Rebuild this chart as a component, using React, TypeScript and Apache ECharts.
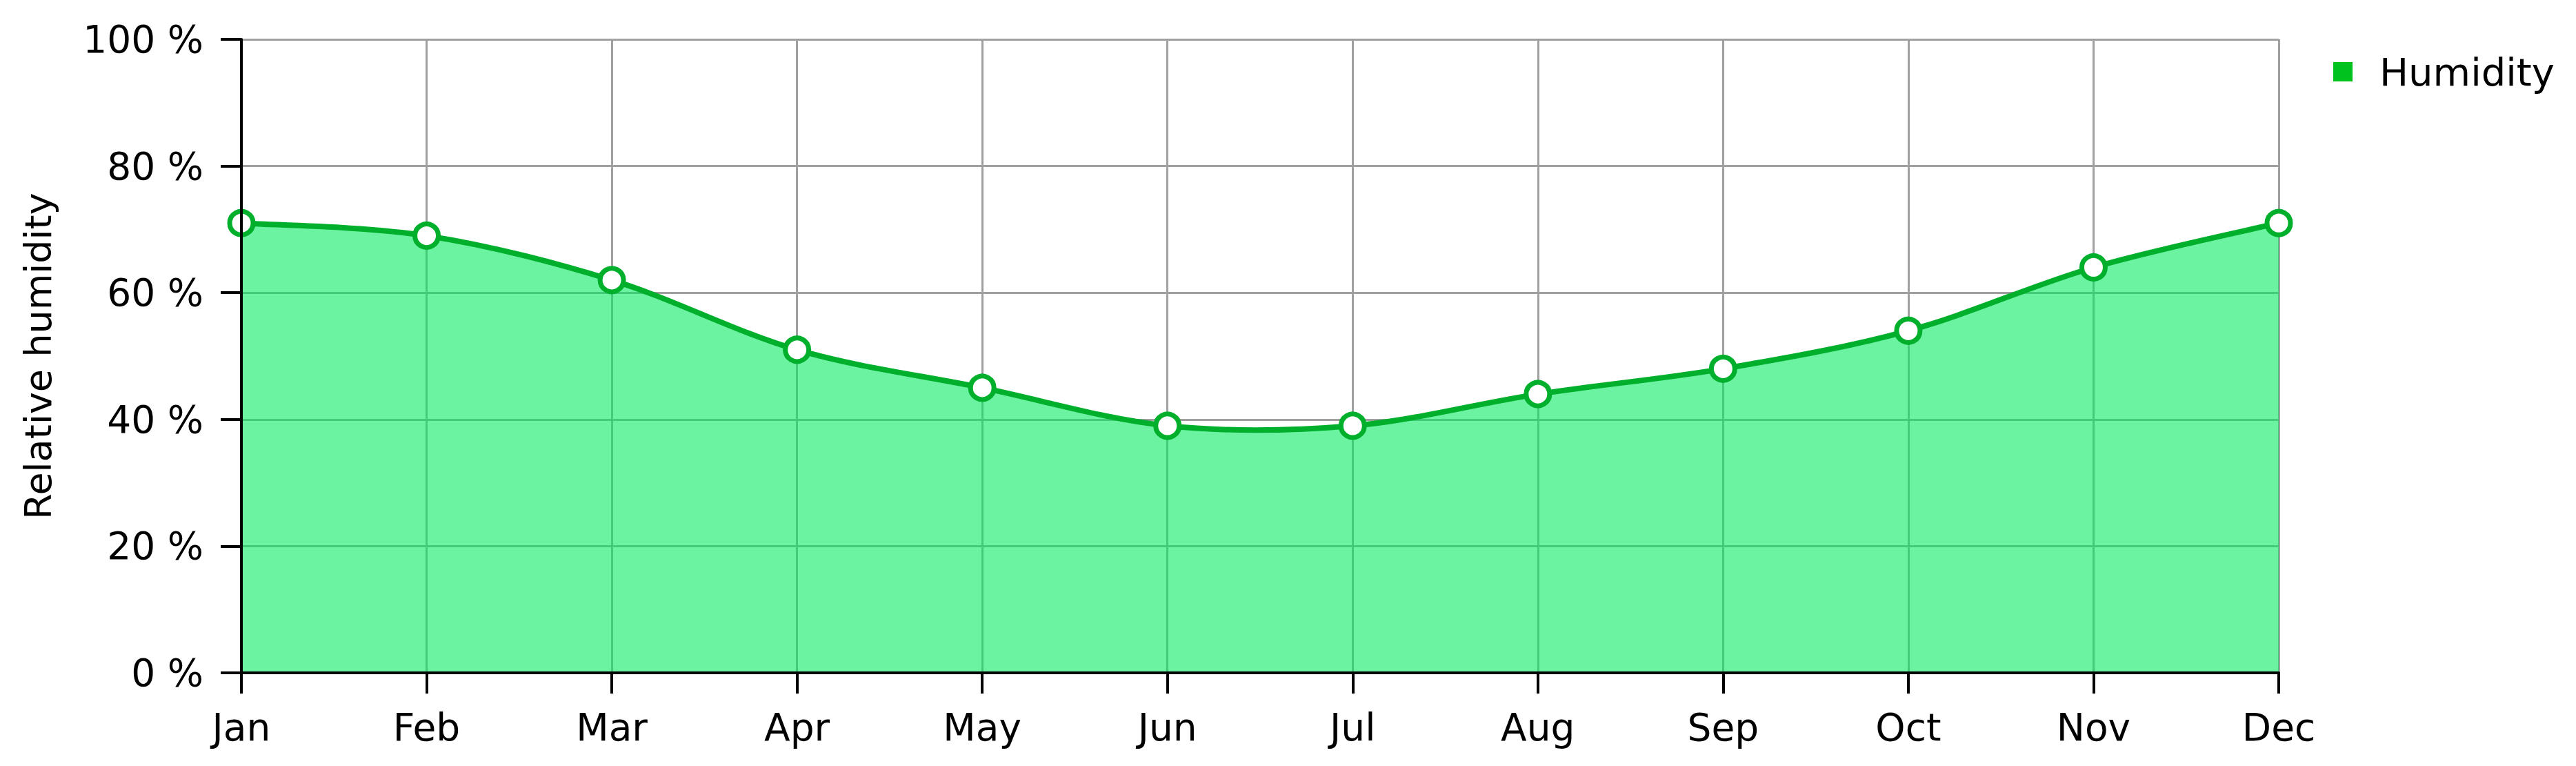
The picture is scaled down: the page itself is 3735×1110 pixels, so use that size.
import React, { useEffect, useRef } from "react";
import * as echarts from "echarts";

const months = ["Jan", "Feb", "Mar", "Apr", "May", "Jun", "Jul", "Aug", "Sep", "Oct", "Nov", "Dec"];
const humidity = [71, 69, 62, 51, 45, 39, 39, 44, 48, 54, 64, 71];
const seriesName = "Humidity";
const yAxisName = "Relative humidity";

const FONT = "DejaVu Sans";
const LINE = "#00b02c";
const FILL = "rgba(0,234,94,0.576)";

function curvePath(pts: number[][]): string {
  const n = pts.length;
  let d = `M${pts[0][0]},${pts[0][1]}`;
  for (let i = 0; i < n - 1; i++) {
    const p0 = pts[Math.max(i - 1, 0)];
    const p1 = pts[i];
    const p2 = pts[i + 1];
    const p3 = pts[Math.min(i + 2, n - 1)];
    const c1x = p1[0] + (p2[0] - p0[0]) / 6;
    const c1y = p1[1] + (p2[1] - p0[1]) / 6;
    const c2x = p2[0] - (p3[0] - p1[0]) / 6;
    const c2y = p2[1] - (p3[1] - p1[1]) / 6;
    d += ` C${c1x},${c1y} ${c2x},${c2y} ${p2[0]},${p2[1]}`;
  }
  return d;
}

export default function App() {
  const ref = useRef<HTMLDivElement>(null);
  useEffect(() => {
    if (!ref.current) return;
    const chart = echarts.init(ref.current, undefined, { renderer: "svg" });
    chart.setOption({
      animation: false,
      backgroundColor: "#ffffff",
      textStyle: { fontFamily: FONT },
      grid: { left: 350, right: 431, top: 57, bottom: 135 },
      legend: {
        left: 3383,
        top: 75,
        padding: 0,
        itemWidth: 28,
        itemHeight: 28,
        data: [{ name: seriesName, icon: "rect", itemStyle: { color: "#00c21e", borderWidth: 0 } }],
        textStyle: { fontFamily: FONT, fontSize: 56, color: "#000", padding: [0, 0, 0, 34], lineHeight: 58 },
      },
      xAxis: [
        {
          type: "category",
          data: months,
          boundaryGap: false,
          position: "bottom",
          z: 10,
          axisLine: { show: true, onZero: false, lineStyle: { color: "#000", width: 4 } },
          axisTick: { show: true, inside: false, length: 30, lineStyle: { color: "#000", width: 4 } },
          axisLabel: { margin: 51, fontSize: 55, color: "#000", fontFamily: FONT },
          splitLine: { show: false },
        },
        {
          type: "category",
          data: months,
          boundaryGap: false,
          position: "bottom",
          z: 0,
          axisLine: { show: false },
          axisTick: { show: false },
          axisLabel: { show: false },
          splitLine: { show: true, lineStyle: { color: "#a0a0a0", width: 3 } },
        },
      ],
      yAxis: [
        {
          type: "value",
          min: 0,
          max: 100,
          interval: 20,
          position: "left",
          z: 10,
          name: yAxisName,
          nameLocation: "middle",
          nameGap: 268,
          nameTextStyle: { fontSize: 54, color: "#000", fontFamily: FONT },
          axisLine: { show: true, onZero: false, lineStyle: { color: "#000", width: 4 } },
          axisTick: { show: true, inside: false, length: 30, lineStyle: { color: "#000", width: 4 } },
          axisLabel: { margin: 55, fontSize: 55, color: "#000", fontFamily: FONT, formatter: "{value} %" },
          splitLine: { show: false },
        },
        {
          type: "value",
          min: 0,
          max: 100,
          interval: 20,
          position: "left",
          z: 0,
          axisLine: { show: false },
          axisTick: { show: false },
          axisLabel: { show: false },
          splitLine: { show: true, lineStyle: { color: "#a0a0a0", width: 3 } },
        },
      ],
      series: [
        {
          name: "curve",
          type: "custom",
          xAxisIndex: 0,
          yAxisIndex: 0,
          z: 3,
          silent: true,
          data: humidity.map((v, i) => [i, v]),
          encode: { x: 0, y: 1 },
          renderItem: (params: any, api: any) => {
            if (params.dataIndex !== 0) return null;
            const pts = humidity.map((v, i) => api.coord([i, v]));
            const y0 = api.coord([0, 0])[1];
            const line = curvePath(pts);
            const area = `${line} L${pts[pts.length - 1][0]},${y0} L${pts[0][0]},${y0} Z`;
            return {
              type: "group",
              children: [
                { type: "path", shape: { pathData: area }, style: { fill: FILL, stroke: "none" } },
                {
                  type: "path",
                  shape: { pathData: line },
                  style: { fill: "none", stroke: LINE, lineWidth: 8, lineJoin: "round" },
                },
              ],
            };
          },
        },
        {
          name: seriesName,
          type: "line",
          xAxisIndex: 0,
          yAxisIndex: 0,
          data: humidity,
          symbol: "circle",
          symbolSize: 34,
          showSymbol: true,
          z: 5,
          lineStyle: { width: 0, opacity: 0 },
          itemStyle: { color: "#ffffff", borderColor: LINE, borderWidth: 7 },
        },
      ],
    });
    return () => chart.dispose();
  }, []);
  return (
    <div
      ref={ref}
      style={{ position: "fixed", left: 0, top: 0, width: 3735, height: 1110, background: "#fff" }}
    />
  );
}
